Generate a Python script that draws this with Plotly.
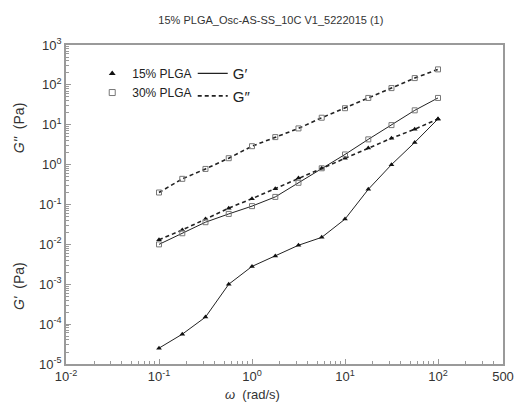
import plotly.graph_objects as go

# ---- data ----
omega = [0.1, 0.178, 0.316, 0.562, 1.0, 1.78, 3.16, 5.62, 10, 17.8, 31.6, 56.2, 100]
g1_15 = [2.5e-5, 5.6e-5, 1.5e-4, 1.0e-3, 2.8e-3, 5.1e-3, 9.5e-3, 1.5e-2, 4.3e-2, 0.24, 1.0, 3.6, 14]
g2_15 = [0.013, 0.023, 0.043, 0.081, 0.14, 0.25, 0.46, 0.81, 1.44, 2.6, 4.6, 7.7, 14]
g1_30 = [0.010, 0.019, 0.036, 0.058, 0.091, 0.155, 0.35, 0.81, 1.8, 4.3, 9.8, 23, 47]
g2_30 = [0.20, 0.44, 0.78, 1.45, 2.9, 4.9, 8.1, 15, 26, 47, 83, 148, 245]

x_tickvals = [0.01, 0.1, 1, 10, 100, 500]
x_ticktext = ["10<sup>-2</sup>", "10<sup>-1</sup>", "10<sup>0</sup>", "10<sup>1</sup>", "10<sup>2</sup>", "500"]
y_exps = [-5, -4, -3, -2, -1, 0, 1, 2, 3]

title_text = "15% PLGA_Osc-AS-SS_10C V1_5222015 (1)"

FONT = "Liberation Sans, Arial, sans-serif"
LINE = "#222222"
SQ = "#777777"

fig = go.Figure()

tri = dict(symbol="triangle-up", size=5, color="#111111", line=dict(width=0))
sq = dict(symbol="square-open", size=5, color=SQ, line=dict(width=1))

fig.add_trace(go.Scatter(x=omega, y=g1_15, mode="lines+markers", line=dict(color=LINE, width=1),
                         marker=tri, showlegend=False))
fig.add_trace(go.Scatter(x=omega, y=g2_15, mode="lines+markers", line=dict(color=LINE, width=1.6, dash="4px,3px"),
                         marker=tri, showlegend=False))
fig.add_trace(go.Scatter(x=omega, y=g1_30, mode="lines+markers", line=dict(color=LINE, width=1),
                         marker=sq, showlegend=False))
fig.add_trace(go.Scatter(x=omega, y=g2_30, mode="lines+markers", line=dict(color=LINE, width=1.6, dash="4px,3px"),
                         marker=sq, showlegend=False))

# legend entries
fig.add_trace(go.Scatter(x=[None], y=[None], mode="markers", name="15% PLGA",
                         marker=dict(symbol="triangle-up", size=6, color="#111111"), legend="legend"))
fig.add_trace(go.Scatter(x=[None], y=[None], mode="markers", name="30% PLGA",
                         marker=dict(symbol="square-open", size=6, color=SQ, line=dict(width=1)), legend="legend"))
fig.add_trace(go.Scatter(x=[None], y=[None], mode="lines", name="G′",
                         line=dict(color=LINE, width=1.3), legend="legend2"))
fig.add_trace(go.Scatter(x=[None], y=[None], mode="lines", name="G″",
                         line=dict(color=LINE, width=1.6, dash="4px,3px"), legend="legend2"))

minor_x = [m * 10 ** e for e in range(-2, 3) for m in range(2, 10) if m * 10 ** e < 500]
minor_y = [m * 10.0 ** e for e in range(-5, 3) for m in range(2, 10)]

axis_common = dict(
    type="log", showline=True, mirror=True, linecolor="#9a9a9a", linewidth=1.5,
    ticks="inside", ticklen=5, tickcolor="#9a9a9a", tickwidth=1,
    showgrid=False, zeroline=False,
    tickfont=dict(family=FONT, size=13, color="#333333"),
)

fig.update_xaxes(**axis_common, range=[-2, 2.69897], tickmode="array",
                 tickvals=x_tickvals, ticktext=x_ticktext,
                 minor=dict(ticks="inside", ticklen=3, tickcolor="#9a9a9a", tickmode="array", tickvals=minor_x))
fig.update_yaxes(**axis_common, range=[-5, 3], tickmode="array",
                 tickvals=[10.0 ** e for e in y_exps],
                 ticktext=[f"10<sup>{e}</sup>" for e in y_exps],
                 minor=dict(ticks="inside", ticklen=3, tickcolor="#9a9a9a", tickmode="array", tickvals=minor_y))

fig.update_layout(
    width=526, height=406,
    margin=dict(l=66, r=13, t=45, b=42),
    paper_bgcolor="white", plot_bgcolor="white",
    font=dict(family=FONT, color="#333333"),
    title=dict(text=title_text, x=0.515, xanchor="center", y=0.95, yanchor="middle",
               font=dict(size=11, color="#333333")),
    legend=dict(x=0.06, y=0.956, xanchor="left", yanchor="top", bgcolor="rgba(0,0,0,0)",
                font=dict(size=12, color="#222222"), tracegroupgap=0),
    legend2=dict(x=0.29, y=0.962, xanchor="left", yanchor="top", bgcolor="rgba(0,0,0,0)",
                 font=dict(size=15, color="#222222"), tracegroupgap=0),
    annotations=[
        dict(text="<i>G''</i>  (Pa)", xref="paper", yref="paper", x=-0.107, y=0.74,
             xanchor="center", yanchor="middle",
             textangle=-90, showarrow=False, font=dict(size=14, color="#333333")),
        dict(text="<i>G'</i>  (Pa)", xref="paper", yref="paper", x=-0.107, y=0.245,
             xanchor="center", yanchor="middle",
             textangle=-90, showarrow=False, font=dict(size=14, color="#333333")),
        dict(text="<i>ω</i>  (rad/s)", xref="x", yref="paper", x=0, y=-0.097,
             xanchor="center", yanchor="middle",
             showarrow=False, font=dict(size=13, color="#333333")),
    ],
)

fig.write_html("out.html", config={"displayModeBar": False},
               post_script="document.body.style.margin='0';document.body.style.overflow='hidden';")
